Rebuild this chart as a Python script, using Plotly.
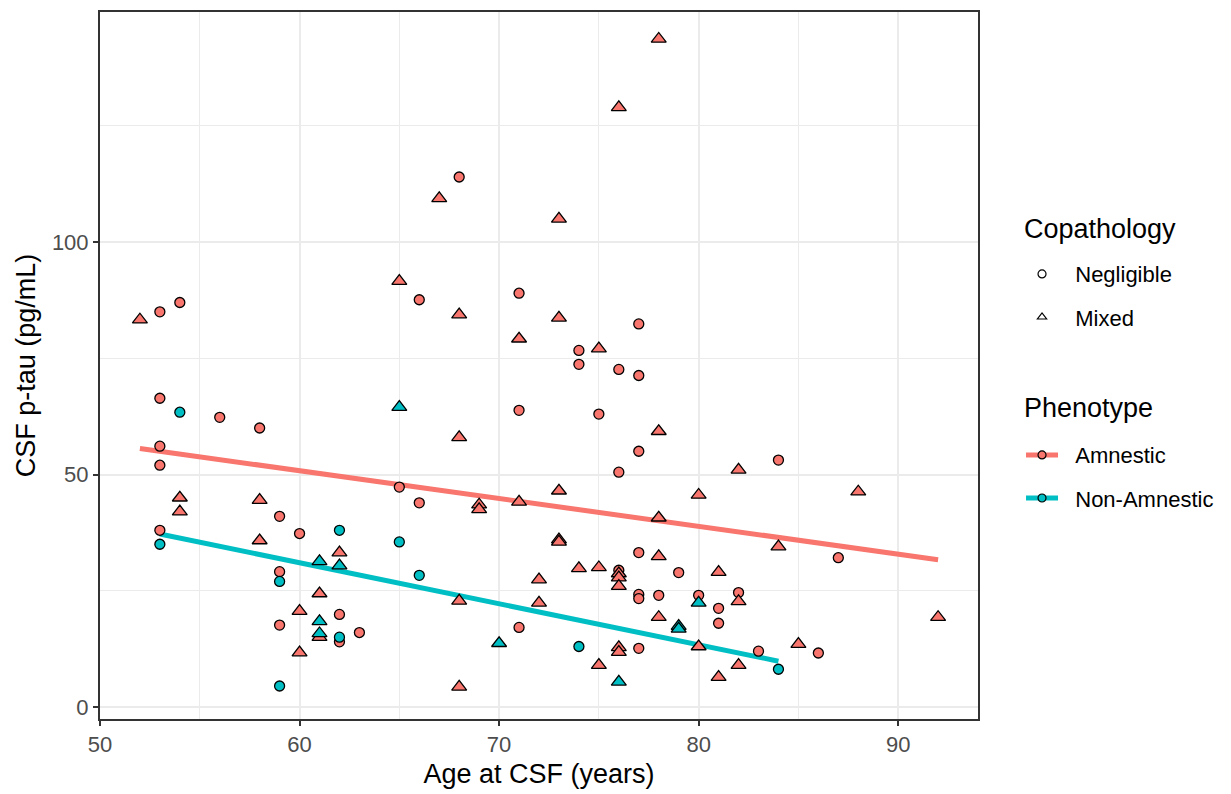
import numpy as np
import plotly.graph_objects as go

# ---- data ----
amn_neg_age = [53, 54, 53, 56, 58, 53, 53, 53, 59, 60, 59, 59, 62, 62, 63, 65, 66, 66, 68, 71, 71, 71,
               74, 74, 75, 76, 76, 76, 77, 77, 77, 77, 77, 77, 77, 78, 79, 80, 81, 81, 82, 83, 84, 86, 87]
amn_neg_ptau = [85, 87, 66.4, 62.3, 60, 56.1, 52, 38, 41, 37.3, 29.1, 17.6, 19.9, 14, 16, 47.3, 87.6, 43.9,
                114, 89, 63.8, 17.1, 76.7, 73.7, 63, 72.6, 50.5, 29.4, 82.4, 71.3, 55, 33.2, 24.2, 23.3,
                12.6, 24, 28.9, 24, 21.2, 18, 24.6, 12, 53.1, 11.6, 32.1]

amn_mix_age = [52, 54, 54, 58, 58, 60, 60, 61, 61, 62, 65, 67, 68, 68, 68, 68, 69, 69, 71, 71, 73, 73,
               73, 73, 73, 72, 72, 74, 75, 75, 75, 76, 76, 76, 76, 76, 76, 78, 78, 78, 78, 78, 80, 80,
               81, 81, 82, 82, 82, 84, 85, 88, 92]
amn_mix_ptau = [83.3, 45, 42, 44.5, 35.8, 20.6, 11.7, 24.4, 15, 33.2, 91.6, 109.4, 84.4, 58, 22.8, 4.3,
                43.5, 42.5, 79.2, 44.1, 105, 83.7, 46.5, 36, 35.5, 27.4, 22.4, 29.8, 77.1, 30, 9, 129,
                28.7, 27.8, 26, 12.8, 11.8, 143.7, 59.3, 40.7, 32.4, 19.3, 45.6, 13, 29, 6.4, 51, 22.7,
                9, 34.5, 13.5, 46.3, 19.3]

non_neg_age = [53, 54, 59, 59, 62, 62, 65, 66, 74, 84]
non_neg_ptau = [35, 63.4, 27, 4.5, 38, 15, 35.5, 28.3, 13, 8.1]

non_mix_age = [61, 62, 61, 61, 65, 70, 76, 79, 79, 80]
non_mix_ptau = [31.3, 30.4, 18.4, 15.8, 64.5, 13.7, 5.4, 17.4, 16.8, 22.4]

phenotypes = ["Amnestic", "Non-Amnestic"]
copathologies = ["Negligible", "Mixed"]
colors = {"Amnestic": "#F8766D", "Non-Amnestic": "#00BFC4"}
x_ticks = [50, 60, 70, 80, 90]
y_ticks = [0, 50, 100]

groups = {
    ("Amnestic", "Negligible"): (amn_neg_age, amn_neg_ptau),
    ("Amnestic", "Mixed"): (amn_mix_age, amn_mix_ptau),
    ("Non-Amnestic", "Negligible"): (non_neg_age, non_neg_ptau),
    ("Non-Amnestic", "Mixed"): (non_mix_age, non_mix_ptau),
}
symbols = {"Negligible": "circle", "Mixed": "triangle-up"}
sizes = {"Negligible": 10, "Mixed": 13}

fig = go.Figure()

# regression lines (linear fit per phenotype)
for ph in phenotypes:
    xs = np.array(groups[(ph, "Negligible")][0] + groups[(ph, "Mixed")][0], dtype=float)
    ys = np.array(groups[(ph, "Negligible")][1] + groups[(ph, "Mixed")][1], dtype=float)
    b, a = np.polyfit(xs, ys, 1)
    xl = np.array([xs.min(), xs.max()])
    fig.add_trace(go.Scatter(x=xl, y=a + b * xl, mode="lines",
                             line=dict(color=colors[ph], width=5),
                             showlegend=False, hoverinfo="skip"))

# points
for (ph, cp), (xs, ys) in groups.items():
    fig.add_trace(go.Scatter(
        x=xs, y=ys, mode="markers", showlegend=False,
        marker=dict(symbol=symbols[cp], size=sizes[cp], color=colors[ph],
                    line=dict(color="black", width=1.3))))

PAD = "\u00a0\u00a0"

# legend entries (each in its own legend group so spacing can be set by tracegroupgap)
for cp in copathologies:
    fig.add_trace(go.Scatter(
        x=[None], y=[None], mode="markers", name=PAD + cp, legend="legend", legendgroup=cp,
        marker=dict(symbol=symbols[cp] + "-open", size=8, color="black",
                    line=dict(color="black", width=1.2))))
for ph in phenotypes:
    fig.add_trace(go.Scatter(
        x=[None], y=[None], mode="lines+markers", name=PAD + ph, legend="legend2", legendgroup=ph,
        line=dict(color=colors[ph], width=5),
        marker=dict(symbol="circle", size=8, color=colors[ph],
                    line=dict(color="black", width=1.2))))

font_family = "Liberation Sans, Arial, sans-serif"
axis_common = dict(
    showline=True, mirror=True, linecolor="#333333", linewidth=2,
    ticks="outside", ticklen=5, tickwidth=1.5, tickcolor="#333333",
    tickfont=dict(size=22, color="#4D4D4D", family=font_family),
    showgrid=True, gridcolor="#EBEBEB", gridwidth=1.6, zeroline=False,
)

legend_common = dict(xanchor="left", yanchor="top", tracegroupgap=11.5,
                     font=dict(size=22), itemwidth=32, bgcolor="rgba(0,0,0,0)")

fig.update_layout(
    width=1231, height=794,
    margin=dict(l=100, r=253, t=10, b=74),
    plot_bgcolor="white", paper_bgcolor="white",
    font=dict(family=font_family, color="black"),
    xaxis=dict(range=[50, 94], tickvals=x_ticks, **axis_common,
               minor=dict(dtick=5, tick0=50, showgrid=True, gridcolor="#EBEBEB", gridwidth=0.8),
               title=dict(text="Age at CSF (years)", font=dict(size=27, color="black"), standoff=8)),
    yaxis=dict(range=[-2.6, 149.5], tickvals=y_ticks, **axis_common,
               minor=dict(dtick=25, tick0=0, showgrid=True, gridcolor="#EBEBEB", gridwidth=0.8),
               title=dict(text="CSF p-tau (pg/mL)", font=dict(size=27, color="black"), standoff=8)),
    legend=dict(x=1.049, y=0.659, **legend_common),
    legend2=dict(x=1.049, y=0.403, **legend_common),
    annotations=[
        dict(text="Copathology", xref="paper", yref="paper", x=1.050, y=0.693,
             xanchor="left", yanchor="middle", showarrow=False, font=dict(size=27)),
        dict(text="Phenotype", xref="paper", yref="paper", x=1.050, y=0.4394,
             xanchor="left", yanchor="middle", showarrow=False, font=dict(size=27)),
    ],
)

fig.write_html("out.html")
